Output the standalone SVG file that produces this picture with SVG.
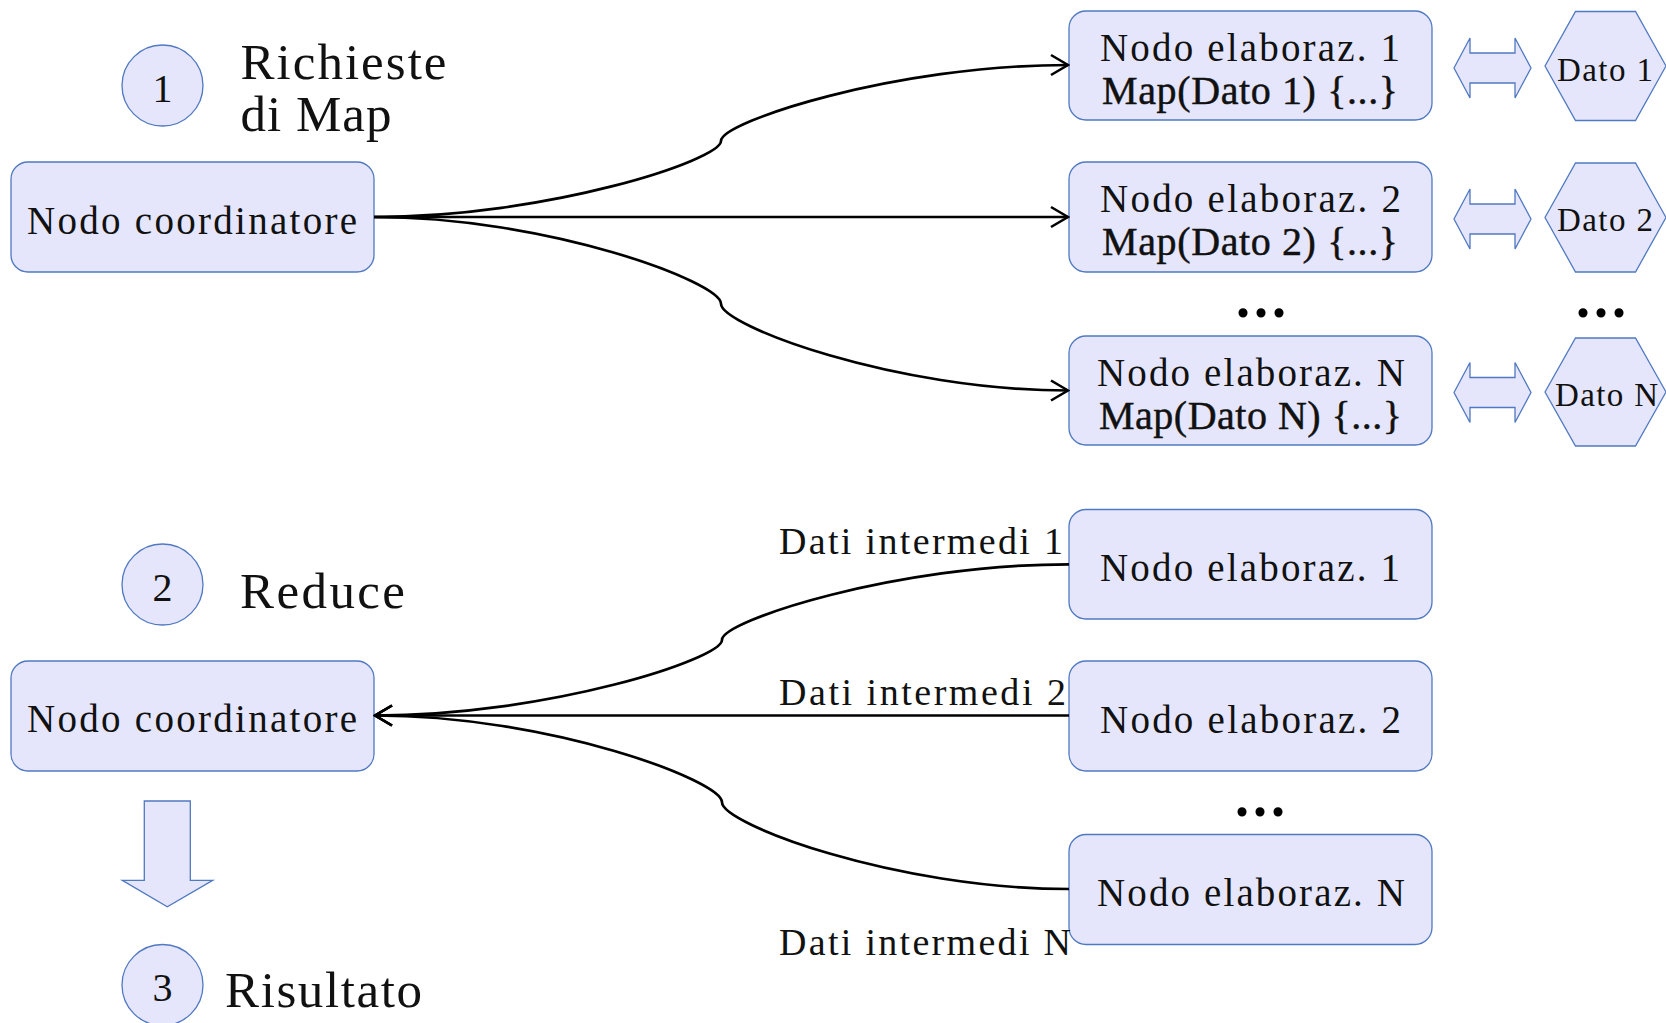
<svg xmlns="http://www.w3.org/2000/svg" xmlns:xlink="http://www.w3.org/1999/xlink" width="1666" height="1023" viewBox="0 0 1666 1023">
  <style>
    .box { fill: #E5E6FB; stroke: #5079C1; stroke-width: 1.3; }
    .t { font-family: "Liberation Serif", "Times New Roman", serif; fill: #111; }
    .node { font-size: 39px; }
    .map { font-size: 40px; stroke: #111; stroke-width: 0.45; }
    .dato { font-size: 33px; }
    .lbl { font-size: 38px; }
    .step { font-size: 40px; }
    .title { font-size: 51px; }
    .dots { font-family: "Liberation Serif", serif; font-weight: bold; font-size: 56px; letter-spacing: 4px; fill: #000; }
    .wire { fill: none; stroke: #000; stroke-width: 2.7; }
  </style>
  <defs>
    <marker id="chev" markerUnits="userSpaceOnUse" viewBox="-20 -13 22 26" refX="0" refY="0" markerWidth="22" markerHeight="26" orient="auto">
      <path d="M-17,-10 L0,0 L-17,10" fill="none" stroke="#000" stroke-width="2.6" stroke-linejoin="miter"/>
    </marker>
    <!-- double-headed block arrow, centred vertically on y=0 -->
    <path id="dbl" d="M1454,0 L1470,-30 L1470,-15 L1515,-15 L1515,-30 L1531,0 L1515,30 L1515,15 L1470,15 L1470,30 Z"/>
  </defs>

  <rect width="1666" height="1023" fill="#fff"/>

  <!-- step markers and titles -->
  <g id="step1">
    <circle class="box" cx="162.5" cy="85.5" r="40.5"/>
    <text class="t step" x="162.5" y="101.7" text-anchor="middle">1</text>
    <text class="t title" x="240.5" y="78.5" textLength="206" lengthAdjust="spacing">Richieste</text>
    <text class="t title" x="240.5" y="131" textLength="151" lengthAdjust="spacing">di Map</text>
  </g>
  <g id="step2">
    <circle class="box" cx="162.5" cy="584.5" r="40.5"/>
    <text class="t step" x="162.5" y="601" text-anchor="middle">2</text>
    <text class="t title" x="240" y="608.3" textLength="165" lengthAdjust="spacing">Reduce</text>
  </g>
  <g id="step3">
    <circle class="box" cx="162.5" cy="985" r="40.5"/>
    <text class="t step" x="162.5" y="1001" text-anchor="middle">3</text>
    <text class="t title" x="225" y="1007" textLength="197" lengthAdjust="spacing">Risultato</text>
  </g>

  <!-- map phase -->
  <g id="coord-map">
    <rect class="box" x="11" y="162" width="363" height="110" rx="17"/>
    <text class="t node" x="27" y="234" textLength="330" lengthAdjust="spacing">Nodo coordinatore</text>
  </g>
  <g id="worker-map-1">
    <rect class="box" x="1069" y="11" width="363" height="109" rx="17"/>
    <text class="t node" x="1100" y="61" textLength="300" lengthAdjust="spacing">Nodo elaboraz. 1</text>
    <text class="t map" x="1102" y="103.5" textLength="296" lengthAdjust="spacing">Map(Dato 1) {...}</text>
  </g>
  <g id="worker-map-2">
    <rect class="box" x="1069" y="162" width="363" height="110" rx="17"/>
    <text class="t node" x="1100" y="212" textLength="301" lengthAdjust="spacing">Nodo elaboraz. 2</text>
    <text class="t map" x="1102" y="254.5" textLength="296" lengthAdjust="spacing">Map(Dato 2) {...}</text>
  </g>
  <g id="worker-map-n">
    <rect class="box" x="1069" y="336" width="363" height="109" rx="17"/>
    <text class="t node" x="1097" y="386" textLength="308" lengthAdjust="spacing">Nodo elaboraz. N</text>
    <text class="t map" x="1099" y="428.5" textLength="303" lengthAdjust="spacing">Map(Dato N) {...}</text>
  </g>
  <g id="data-1">
    <polygon class="box" points="1545,66 1575.5,11.5 1635.5,11.5 1666,66 1635.5,120.5 1575.5,120.5"/>
    <text class="t dato" x="1557" y="80.5" textLength="96" lengthAdjust="spacing">Dato 1</text>
  </g>
  <g id="data-2">
    <polygon class="box" points="1545,217.5 1575.5,163 1635.5,163 1666,217.5 1635.5,272 1575.5,272"/>
    <text class="t dato" x="1557" y="230.5" textLength="96" lengthAdjust="spacing">Dato 2</text>
  </g>
  <g id="data-n">
    <polygon class="box" points="1545,392 1575.5,338 1635.5,338 1666,392 1635.5,446 1575.5,446"/>
    <text class="t dato" x="1555" y="405.5" textLength="103" lengthAdjust="spacing">Dato N</text>
  </g>
  <text class="dots" x="1236" y="317">...</text>
  <text class="dots" x="1576" y="317">...</text>

  <!-- reduce phase -->
  <g id="coord-reduce">
    <rect class="box" x="11" y="661" width="363" height="110" rx="17"/>
    <text class="t node" x="27" y="732" textLength="330" lengthAdjust="spacing">Nodo coordinatore</text>
  </g>
  <g id="worker-red-1">
    <rect class="box" x="1069" y="509.5" width="363" height="109.5" rx="17"/>
    <text class="t node" x="1100" y="581" textLength="300" lengthAdjust="spacing">Nodo elaboraz. 1</text>
  </g>
  <g id="worker-red-2">
    <rect class="box" x="1069" y="661" width="363" height="110" rx="17"/>
    <text class="t node" x="1100" y="732.5" textLength="301" lengthAdjust="spacing">Nodo elaboraz. 2</text>
  </g>
  <g id="worker-red-n">
    <rect class="box" x="1069" y="834.5" width="363" height="110" rx="17"/>
    <text class="t node" x="1097" y="905.5" textLength="308" lengthAdjust="spacing">Nodo elaboraz. N</text>
  </g>
  <text class="dots" x="1235" y="816">...</text>

  <!-- connectors -->
  <g id="connectors">
    <path class="wire" marker-end="url(#chev)" d="M374,217 C547.5,217 721,160 721,141 C721,122 894.5,65 1068,65"/>
    <path class="wire" marker-end="url(#chev)" d="M374,217 L1068,217"/>
    <path class="wire" marker-end="url(#chev)" d="M374,217 C547.5,217 721,282 721,303.75 C721,325.5 894.5,390.5 1068,390.5"/>

    <path class="wire" marker-end="url(#chev)" d="M1069,564.3 C895.5,564.3 722,621 722,639.9 C722,658.8 548.5,715.5 375,715.5"/>
    <path class="wire" marker-end="url(#chev)" d="M1069,715.5 L375,715.5"/>
    <path class="wire" marker-end="url(#chev)" d="M1069,889 C895.5,889 722,824 722,802.25 C722,780.5 548.5,715.5 375,715.5"/>

    <text class="t lbl" x="779" y="554" textLength="284" lengthAdjust="spacing">Dati intermedi 1</text>
    <text class="t lbl" x="779" y="705" textLength="287" lengthAdjust="spacing">Dati intermedi 2</text>
    <text class="t lbl" x="779" y="955" textLength="292" lengthAdjust="spacing">Dati intermedi N</text>

    <use xlink:href="#dbl" class="box" y="68"/>
    <use xlink:href="#dbl" class="box" y="219"/>
    <use xlink:href="#dbl" class="box" y="392.5"/>

    <path class="box" d="M144.3,801 L190.3,801 L190.3,880.3 L212.7,880.3 L167.3,906.7 L122.3,880.3 L144.3,880.3 Z"/>
  </g>
</svg>
